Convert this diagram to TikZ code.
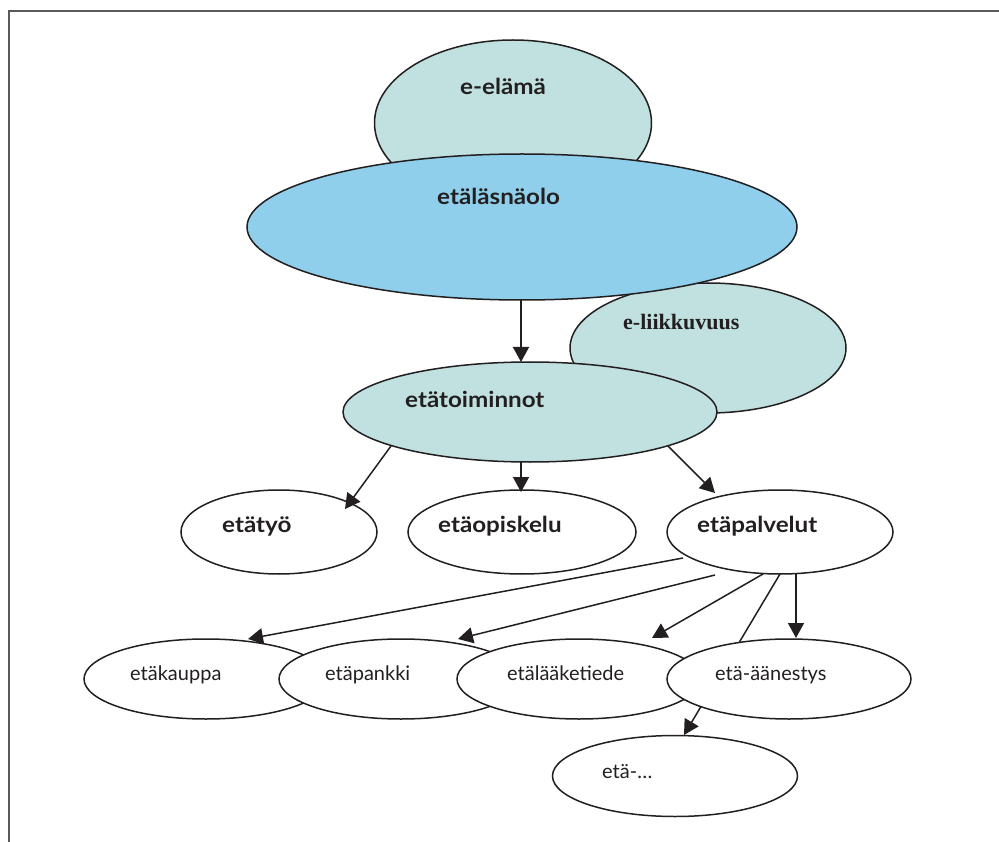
\documentclass[tikz,border=0pt]{standalone}
\usepackage{fontspec}
\setmainfont{Lato}
\newfontfamily\widebold[FakeStretch=1.1]{Lato}
\newfontfamily\timesbold{Liberation Serif}
\usetikzlibrary{shapes.geometric,calc,arrows.meta}
\definecolor{paleteal}{HTML}{C0E1DF}
\definecolor{skyblue}{HTML}{8FCFEB}
\definecolor{ink}{HTML}{231F20}
\definecolor{framegray}{HTML}{5A5A5A}

\begin{document}
\begin{tikzpicture}[x=1pt,y=-1pt,
  bubble/.style={ellipse, draw=ink, line width=1.5pt, inner sep=0pt},
  tealbubble/.style={bubble, fill=paleteal},
  bluebubble/.style={bubble, fill=skyblue},
  whitebubble/.style={bubble, fill=white},
  boldlbl/.style={anchor=mid west, inner sep=0pt, text=ink, font=\widebold\fontsize{22}{26}\selectfont\bfseries},
  plainlbl/.style={anchor=mid west, inner sep=0pt, text=ink, font=\fontsize{20}{24}\selectfont},
  seriflbl/.style={anchor=mid west, inner sep=0pt, text=ink, font=\timesbold\fontsize{22}{26}\selectfont\bfseries},
  arr/.style={draw=ink, line width=1.5pt, -{Triangle[length=15pt,width=16pt]}},
]
\useasboundingbox (0,0) rectangle (999,842);

% frame on the top and left sides
\draw[framegray, line width=2pt] (9,842) -- (9,11.5) -- (999,11.5);

% upper layers
\node[tealbubble, minimum width=277pt, minimum height=166pt] (elama) at (513,123) {};
\node[tealbubble, minimum width=276pt, minimum height=130pt] (liikk) at (708,348) {};
\node[bluebubble, minimum width=550pt, minimum height=146pt] (lasna) at (522,227) {};
\node[tealbubble, minimum width=374pt, minimum height=100pt] (toim) at (530,412) {};

\node[boldlbl] (elamaT) at ($(elama)+(-53,-31)$) {e-elämä};
\node[seriflbl] (liikkT) at ($(liikk)+(-85,-21)$) {e-liikkuvuus};
\node[boldlbl] (lasnaT) at ($(lasna)+(-85,-25)$) {etäläsnäolo};
\node[boldlbl] (toimT) at ($(toim)+(-125,-7)$) {etätoiminnot};

\draw[arr] ($(lasna)+(-1,73)$) -- ($(toim)+(-9,-50)$);

% second row
\node[whitebubble, minimum width=196pt, minimum height=84pt] (tyo) at (279,532) {};
\node[whitebubble, minimum width=228pt, minimum height=84pt] (opisk) at (522,532) {};
\node[whitebubble, minimum width=226pt, minimum height=84pt] (pal) at (780,532) {};

\node[boldlbl] (tyoT) at ($(tyo)+(-57,-2)$) {etätyö};
\node[boldlbl] (opiskT) at ($(opisk)+(-84,-2)$) {etäopiskelu};
\node[boldlbl] (palT) at ($(pal)+(-83,-2)$) {etäpalvelut};

\draw[arr] ($(toim)+(-139,34)$) -- ($(tyo)+(66,-23)$);
\draw[arr] ($(toim)+(-9,49)$) -- ($(opisk)+(-1,-40)$);
\draw[arr] ($(toim)+(138,34)$) -- ($(pal)+(-65,-39)$);

% services row
\node[whitebubble, minimum width=244pt, minimum height=80pt] (kauppa) at (206,679) {};
\node[whitebubble, minimum width=244pt, minimum height=80pt] (pankki) at (401,679) {};
\node[whitebubble, minimum width=244pt, minimum height=80pt] (laake) at (579,679) {};
\node[whitebubble, minimum width=245pt, minimum height=81pt] (muu) at (675,776) {};
\draw[arr] ($(pal)+(0,42)$) -- ($(muu)+(9,-41)$);
\node[whitebubble, minimum width=244pt, minimum height=80pt] (aanest) at (789,679) {};

\node[plainlbl] (kauppaT) at ($(kauppa)+(-76,-1)$) {etäkauppa};
\node[plainlbl] (pankkiT) at ($(pankki)+(-76,-1)$) {etäpankki};
\node[plainlbl] (laakeT) at ($(laake)+(-72,-1)$) {etälääketiede};
\node[plainlbl] (aanestT) at ($(aanest)+(-74,-1)$) {etä-äänestys};
\node[plainlbl] (muuT) at ($(muu)+(-73,0)$) {etä-…};

\draw[arr] ($(pal)+(-97,26)$) -- ($(kauppa)+(42,-40)$);
\draw[arr] ($(pal)+(-65,43)$) -- ($(pankki)+(57,-40)$);
\draw[arr] ($(pal)+(-17,42)$) -- ($(laake)+(73,-41)$);
\draw[arr] ($(pal)+(16,42)$) -- ($(aanest)+(7,-41)$);
\end{tikzpicture}
\end{document}
